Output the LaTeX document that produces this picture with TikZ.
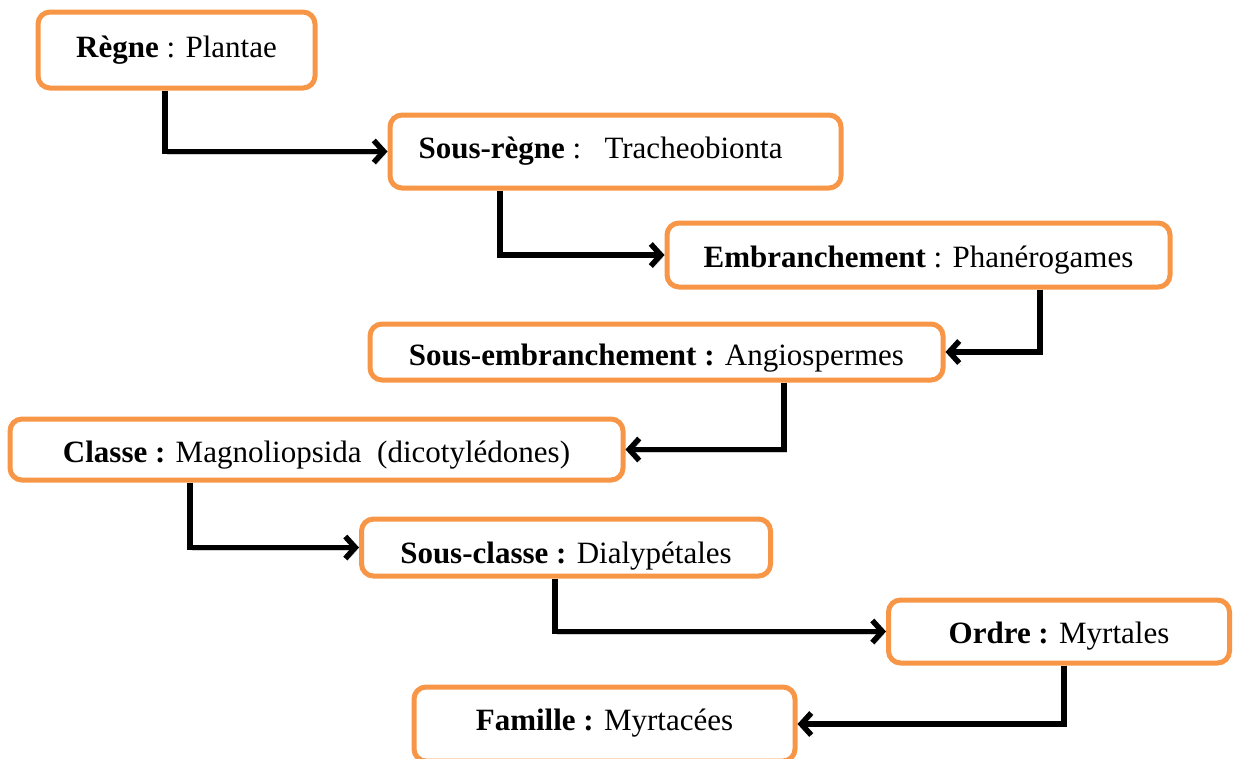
\documentclass[tikz,border=0pt]{standalone}
\usepackage{fontspec}
\setmainfont{Liberation Serif}
\usepackage{tikz}
\usetikzlibrary{arrows.meta}
\definecolor{boxorange}{HTML}{F79646}
\tikzset{
  taxon/.style={draw=boxorange, line width=5pt, rounded corners=12pt, fill=white,
    inner sep=0pt, font=\fontsize{31}{37}\selectfont, text depth=0pt},
  link/.style={line width=5.5pt, -{Straight Barb[length=10pt,width=22pt]},
    preaction={draw=black!18, transform canvas={shift={(2pt,-2.5pt)}}}}
}

\begin{document}
\begin{tikzpicture}[x=1pt,y=-1pt]
\useasboundingbox (0,0) rectangle (1233,758);
%taxonomic ranks
\node[taxon, minimum width=277, minimum height=76, text height=14pt] (regne) at (176.5,50) {\textbf{Règne} : Plantae};
\node[taxon, minimum width=451, minimum height=73, text height=13pt] (sousregne) at (615.5,151.5) {\textbf{Sous-règne} :~~~Tracheobionta\hspace*{30pt}};
\node[taxon, minimum width=503, minimum height=64, text height=24pt] (embr) at (918.5,255) {\textbf{Embranchement} : Phanérogames};
\node[taxon, minimum width=573, minimum height=56, text height=26pt] (sousembr) at (656.5,352) {\textbf{Sous-embranchement :} Angiospermes};
\node[taxon, minimum width=613, minimum height=61, text height=25pt] (classe) at (316.5,449.5) {\textbf{Classe :} Magnoliopsida~~(dicotylédones)};
\node[taxon, minimum width=409, minimum height=57, text height=32pt] (sousclasse) at (566,547.5) {\textbf{Sous-classe :} Dialypétales};
\node[taxon, minimum width=341, minimum height=63, text height=23pt] (ordre) at (1059,631.5) {\textbf{Ordre :} Myrtales};
\node[taxon, minimum width=381, minimum height=74, text height=12pt] (famille) at (604.5,724) {\textbf{Famille :} Myrtacées};
%elbow arrows from one rank to the next
\draw[link] ([xshift=-11.5pt]regne.south) |- (sousregne.west);
\draw[link] ([xshift=-115.5pt]sousregne.south) |- (embr.west);
\draw[link] ([xshift=121.5pt]embr.south) |- (sousembr.east);
\draw[link] ([xshift=127.5pt]sousembr.south) |- (classe.east);
\draw[link] ([xshift=-126.5pt]classe.south) |- (sousclasse.west);
\draw[link] ([xshift=-11pt]sousclasse.south) |- (ordre.west);
\draw[link] ([xshift=5pt]ordre.south) |- (famille.east);
\end{tikzpicture}
\end{document}
